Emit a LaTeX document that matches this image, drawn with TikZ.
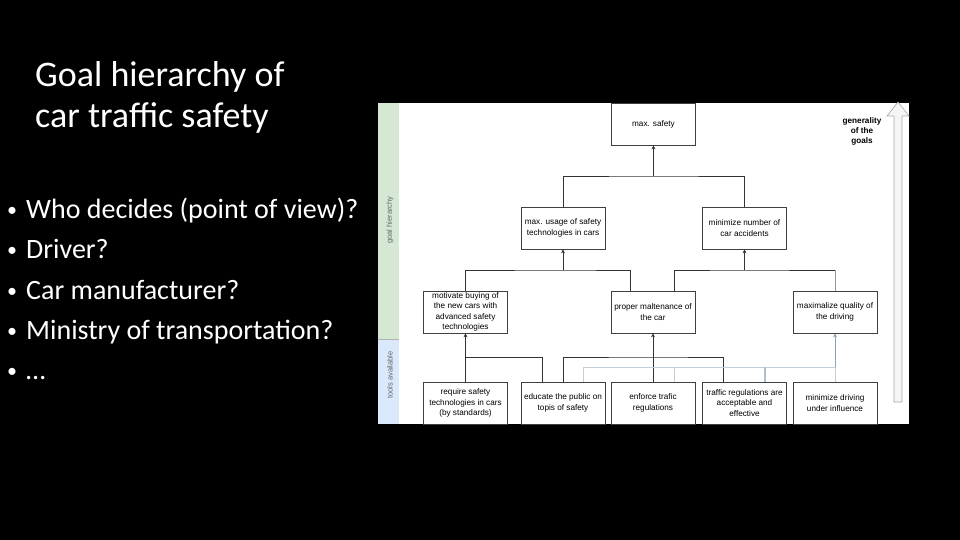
\documentclass[tikz,border=0pt]{standalone}
\usepackage{fontspec}
\setmainfont{Carlito}
\newfontfamily\arialf{Liberation Sans}
\usetikzlibrary{arrows.meta}
\definecolor{lgreen}{HTML}{D5E8D4}
\definecolor{lblue}{HTML}{DAE8FC}
\definecolor{lconn}{HTML}{C4CED6}
\definecolor{bconn}{HTML}{8FA3B5}
\begin{document}
\begin{tikzpicture}[x=1pt,y=-1pt,
 goalbox/.style={draw=black!75, line width=0.75pt, fill=white, minimum width=84pt, minimum height=42pt, inner sep=1pt, align=center, font=\arialf\fontsize{8.2}{10.5}\selectfont, text=black},
 conn/.style={draw=black!80, line width=0.7pt},
 lightconn/.style={draw=lconn, line width=0.7pt},
 tip/.style={-{Stealth[length=4pt,width=4pt]}},
 titletext/.style={text=white, font=\fontsize{36}{42}\selectfont, anchor=base west, inner sep=0pt},
 bullettext/.style={text=white, font=\fontsize{28}{34}\selectfont, anchor=base west, inner sep=0pt},
 bulletmark/.style={text=white, font=\fontsize{20}{24}\selectfont, anchor=base, inner sep=0pt},
 sidelabel/.style={rotate=90, font=\arialf\fontsize{7.5}{9}\selectfont, text=black!60, inner sep=0pt},
]
\useasboundingbox (0,0) rectangle (960,540);
\fill[black] (0,0) rectangle (960,540);

% left text
\node[titletext] (t1) at (35,87) {Goal hierarchy of};
\node[titletext] (t2) at (35,128) {car traffic safety};
\node[bulletmark] (b1) at (12,216) {•};
\node[bullettext] (l1) at (26,218) {Who decides (point of view)?};
\node[bulletmark] (b2) at (12,256) {•};
\node[bullettext] (l2) at (26,258) {Driver?};
\node[bulletmark] (b3) at (12,297) {•};
\node[bullettext] (l3) at (26,299) {Car manufacturer?};
\node[bulletmark] (b4) at (12,337) {•};
\node[bullettext] (l4) at (26,339) {Ministry of transportation?};
\node[bulletmark] (b5) at (12,377) {•};
\node[bullettext] (l5) at (26,379) {…};

% diagram panel
\fill[white] (378,103) rectangle (909,424);
\fill[lgreen] (378,103) rectangle (399,339);
\fill[lblue] (378,339) rectangle (399,424);
\draw[black!30, line width=0.5pt] (378,339) -- (399,339);
\node[sidelabel] (side1) at (390,220) {goal hierarchy};
\node[sidelabel] (side2) at (390,375) {tools available};

% generality arrow
\draw[fill=black!4, draw=black!35, line width=0.6pt] (894,402) -- (894,116) -- (887,116) -- (898,102) -- (909,116) -- (902,116) -- (902,402) -- cycle;
\node[align=center, font=\arialf\bfseries\fontsize{8.2}{10}\selectfont] (gen) at (862,131) {generality\\of the\\goals};

\begin{scope}
\clip (378,103) rectangle (909,424);
\node[goalbox] (ms) at (653.5,124) {max. safety};
\node[goalbox] (mu) at (563,228) {max. usage of safety\\technologies in cars};
\node[goalbox] (mn) at (744.5,228) {minimize number of\\car accidents};
\node[goalbox] (mb) at (465.5,312) {motivate buying of\\the new cars with\\advanced safety\\technologies};
\node[goalbox] (pm) at (653,312) {proper maltenance of\\the car};
\node[goalbox] (mq) at (835,312) {maximalize quality of\\the driving};
\node[goalbox] (rs) at (465.5,403) {require safety\\technologies in cars\\(by standards)};
\node[goalbox] (ep) at (563,403) {educate the public on\\topis of safety};
\node[goalbox] (et) at (653,403) {enforce trafic\\regulations};
\node[goalbox] (tr) at (744.5,403) {traffic regulations are\\acceptable and\\effective};
\node[goalbox] (md) at (835,403) {minimize driving\\under influence};

% level 2 -> 1
\coordinate (j1) at (653.5,176);
\draw[conn] (mu.north) |- (j1) -| (mn.north);
\draw[conn,tip] (j1) -- (ms.south);

% level 3 -> 2
\coordinate (j2) at (563,270);
\draw[conn] (mb.north) |- (j2) -| ([xshift=-23pt]pm.north);
\draw[conn,tip] (j2) -- (mu.south);
\coordinate (j3) at (744.5,270);
\draw[conn] ([xshift=21pt]pm.north) |- (j3) -- (mq.north |- j3);
\draw[draw=black!40, line width=0.7pt] (mq.north |- j3) -- (mq.north);
\draw[conn,tip] (j3) -- (mn.south);

% level 4 -> 3 (dark)
\coordinate (j4) at (465.5,357);
\draw[conn] (rs.north) -- (j4) -| ([xshift=-21pt]ep.north);
\draw[conn,tip] (j4) -- (mb.south);
\coordinate (j5) at (653,357);
\draw[conn] (ep.north) |- (j5) -| ([xshift=-21.5pt]tr.north);
\draw[conn,tip] (et.north) -- (pm.south);

% level 4 -> 3 (light)
\coordinate (j6) at (835,367);
\draw[lightconn] ([xshift=20pt]ep.north) |- (j6);
\draw[lightconn] ([xshift=21pt]et.north) -- ([xshift=21pt]et.north |- j6);
\draw[draw=bconn!70, line width=1.2pt] ([xshift=20.5pt]tr.north) -- ([xshift=20.5pt]tr.north |- j6);
\draw[lightconn] (md.north) -- (j6);
\draw[draw=bconn, line width=0.7pt, tip] (j6) -- (mq.south);
\end{scope}
\end{tikzpicture}
\end{document}
